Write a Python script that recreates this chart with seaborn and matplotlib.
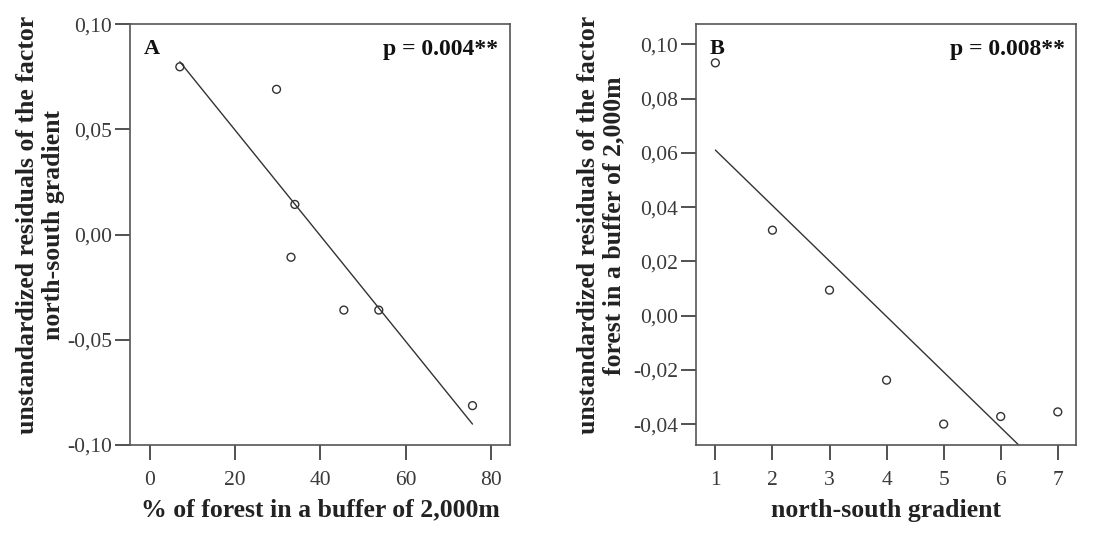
import matplotlib
matplotlib.use("Agg")
import matplotlib.pyplot as plt
import seaborn as sns
import pandas as pd

# ---- data ----
forest_pct = [7.0, 29.7, 34.0, 33.1, 45.5, 53.7, 75.7]
resid_ns = [0.0797, 0.069, 0.0143, -0.0108, -0.0359, -0.0359, -0.0813]

ns_gradient = [1, 2, 3, 4, 5, 6, 7]
resid_forest = [0.0932, 0.0315, 0.0094, -0.0238, -0.040, -0.0372, -0.0355]

a_xticks = [0, 20, 40, 60, 80]
a_xticklabels = ["0", "20", "40", "60", "80"]
a_yticks = [-0.10, -0.05, 0.0, 0.05, 0.10]
a_yticklabels = ["-0,10", "-0,05", "0,00", "0,05", "0,10"]

b_xticks = [1, 2, 3, 4, 5, 6, 7]
b_xticklabels = ["1", "2", "3", "4", "5", "6", "7"]
b_yticks = [-0.04, -0.02, 0.0, 0.02, 0.04, 0.06, 0.08, 0.10]
b_yticklabels = ["-0,04", "-0,02", "0,00", "0,02", "0,04", "0,06", "0,08", "0,10"]

sns.set_style("ticks")
plt.rcParams["font.family"] = ["Liberation Serif", "DejaVu Serif"]

dfA = pd.DataFrame({"x": forest_pct, "y": resid_ns})
dfB = pd.DataFrame({"x": ns_gradient, "y": resid_forest})

fig = plt.figure(figsize=(11.13, 5.6), dpi=100)
axA = fig.add_axes([0.1168, 0.2054, 0.4582 - 0.1168, 0.957 - 0.2054])
axB = fig.add_axes([0.6253, 0.2054, 0.9668 - 0.6253, 0.957 - 0.2054])

dark = "#333333"
frame = "#555555"

def draw(ax, df, xlim, ylim, xt, xtl, yt, ytl, letter, ptext, xlabel, ylabel, ylab_x):
    sns.regplot(data=df, x="x", y="y", ax=ax, scatter=False, ci=None,
                line_kws={"color": dark, "linewidth": 1.0})
    sns.scatterplot(data=df, x="x", y="y", ax=ax, marker="o", s=32,
                    facecolors="none", edgecolor=dark, linewidth=1.0, zorder=3)
    ax.set_xlim(*xlim)
    ax.set_ylim(*ylim)
    ax.set_xticks(xt)
    ax.set_xticklabels(xtl)
    ax.set_yticks(yt)
    ax.set_yticklabels(ytl)
    ax.tick_params(axis="both", direction="out", length=11, width=1.2,
                   color=dark, labelsize=15.5, labelcolor="#3a3a3a")
    ax.tick_params(axis="y", pad=2)
    ax.tick_params(axis="x", pad=8)
    for sp in ax.spines.values():
        sp.set_visible(True)
        sp.set_color(frame)
        sp.set_linewidth(1.2)
    ax.set_xlabel(xlabel, fontsize=18.5, fontweight="bold", color="#222222", labelpad=6)
    ax.set_ylabel(ylabel, fontsize=18.5, fontweight="bold", color="#222222",
                  linespacing=1.15)
    ax.yaxis.set_label_coords(ylab_x, 0.522)
    ax.text(0.035, 0.965, letter, transform=ax.transAxes, fontsize=16,
            fontweight="bold", ha="left", va="top", color="#111111")
    ax.text(0.97, 0.965, ptext, transform=ax.transAxes, fontsize=17,
            fontweight="bold", ha="right", va="top", color="#111111")

draw(axA, dfA, (-4.7, 84.5), (-0.10, 0.10), a_xticks, a_xticklabels,
     a_yticks, a_yticklabels, "A", "p = 0.004**",
     "% of forest in a buffer of 2,000m",
     "unstandardized residuals of the factor\nnorth-south gradient", -0.172)

draw(axB, dfB, (0.66, 7.32), (-0.0477, 0.1075), b_xticks, b_xticklabels,
     b_yticks, b_yticklabels, "B", "p = 0.008**",
     "north-south gradient",
     "unstandardized residuals of the factor\nforest in a buffer of 2,000m", -0.186)

fig.savefig("out.png", dpi=100)
